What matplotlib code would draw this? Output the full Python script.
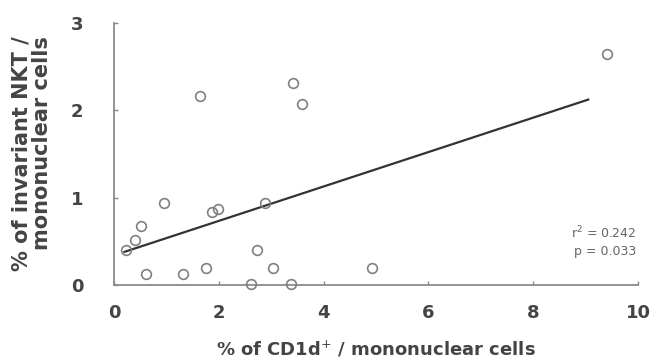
# libraries
import numpy as np
import matplotlib.pyplot as plt

# data
cd1d = [0.23, 0.40, 0.51, 0.95, 0.61, 1.32, 1.76, 1.87, 1.99, 2.88,
        2.73, 3.03, 2.62, 3.37, 1.65, 3.42, 3.58, 4.92, 9.41]
inkt = [0.40, 0.51, 0.67, 0.94, 0.13, 0.13, 0.20, 0.84, 0.87, 0.94,
        0.40, 0.20, 0.01, 0.01, 2.16, 2.31, 2.07, 0.19, 2.65]

# regression line as printed
fit_slope = 0.197
fit_intercept = 0.34
fit_range = [0.2, 9.05]

r2_text = 'r$^2$ = 0.242'
p_text = 'p = 0.033'

plt.rcParams['font.family'] = ['DejaVu Sans']
plt.rcParams['mathtext.fontset'] = 'dejavusans'

fig = plt.figure(figsize=(6.53, 3.62), dpi=100)
ax = fig.add_axes([0.1746, 0.2127, 0.8024, 0.7238])

# points
ax.plot(cd1d, inkt, 'o', markersize=7, markerfacecolor='none',
        markeredgecolor='#808080', markeredgewidth=1.2, clip_on=False, zorder=3)

# fit line
xs = np.array(fit_range)
ax.plot(xs, fit_slope * xs + fit_intercept, color='#333333', linewidth=1.6, zorder=2)

ax.set_xlim(0, 10)
ax.set_ylim(0, 3)
ax.set_xticks([0, 2, 4, 6, 8, 10])
ax.set_yticks([0, 1, 2, 3])

for s in ['top', 'right']:
    ax.spines[s].set_visible(False)
for s in ['left', 'bottom']:
    ax.spines[s].set_color('#8a8a8a')
    ax.spines[s].set_linewidth(1.3)

ax.tick_params(direction='in', length=3, width=1, color='#8a8a8a',
               labelsize=13, labelcolor='#444444')
ax.tick_params(axis='x', pad=14)
ax.tick_params(axis='y', pad=22)
for lab in ax.get_xticklabels() + ax.get_yticklabels():
    lab.set_fontweight('bold')

ax.set_xlabel('% of CD1d$^{+}$ / mononuclear cells', fontsize=13,
              fontweight='bold', color='#444444', labelpad=12)
ax.set_ylabel('% of invariant NKT /\nmononuclear cells', fontsize=15,
              fontweight='bold', color='#444444', labelpad=14,
              multialignment='right', linespacing=1.0)

ax.text(9.97, 0.60, r2_text, ha='right', va='center', fontsize=9, color='#666666')
ax.text(9.97, 0.38, p_text, ha='right', va='center', fontsize=9, color='#666666')

plt.savefig('out.png', dpi=100)
